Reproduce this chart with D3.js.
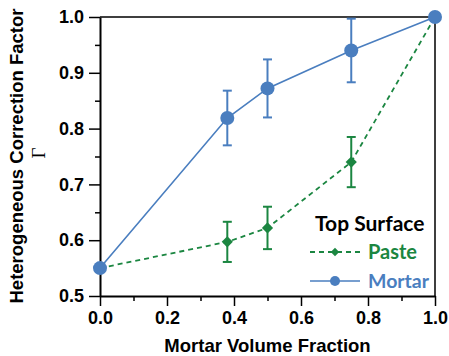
<!DOCTYPE html>
<html>
<head>
<meta charset="utf-8">
<script src="https://cdn.jsdelivr.net/npm/d3@7"></script>
<style>
body { margin: 0; background: #fff; }
text { font-family: "Liberation Sans", Arial, sans-serif; }
</style>
</head>
<body>
<div id="chart"></div>
<script>
// data
var fraction = [0, 0.38, 0.5, 0.75, 1.0];
var mortar = [0.55, 0.819, 0.872, 0.94, 1.0];
var mortarErr = [0, 0.049, 0.052, 0.057, 0];
var paste = [0.55, 0.597, 0.622, 0.74, 1.0];
var pasteErr = [0, 0.036, 0.038, 0.045, 0];
var xTicks = [0, 0.2, 0.4, 0.6, 0.8, 1.0];
var yTicks = [0.5, 0.6, 0.7, 0.8, 0.9, 1.0];

var blue = "#4a7ebf", green = "#1b8641";

var m = {left: 100, right: 14, top: 17, bottom: 60};
var W = 449, H = 356;
var w = W - m.left - m.right;
var h = H - m.top - m.bottom;

var svg = d3.select("#chart")
  .append("svg")
  .attr("width", W)
  .attr("height", H)
  .append("g")
  .attr("transform", "translate(" + m.left + "," + m.top + ")");

var x = d3.scaleLinear().domain([0, 1]).range([0, w]);
var y = d3.scaleLinear().domain([0.5, 1]).range([h, 0]);

// minor ticks
svg.append("g")
  .attr("transform", "translate(0," + h + ")")
  .call(d3.axisBottom(x).tickValues(d3.range(0.1, 1, 0.2)).tickSize(5).tickFormat(""))
  .call(function(g) { g.select(".domain").remove(); g.selectAll("line").attr("stroke-width", 1.5); });
svg.append("g")
  .call(d3.axisLeft(y).tickValues(d3.range(0.55, 1, 0.1)).tickSize(5).tickFormat(""))
  .call(function(g) { g.select(".domain").remove(); g.selectAll("line").attr("stroke-width", 1.5); });

// major axes
var xAxis = svg.append("g")
  .attr("transform", "translate(0," + h + ")")
  .call(d3.axisBottom(x).tickValues(xTicks).tickSize(10).tickSizeOuter(0).tickPadding(5).tickFormat(d3.format(".1f")));
var yAxis = svg.append("g")
  .call(d3.axisLeft(y).tickValues(yTicks).tickSize(11).tickSizeOuter(0).tickPadding(5).tickFormat(d3.format(".1f")));
[xAxis, yAxis].forEach(function(g) {
  g.select(".domain").attr("stroke-width", 2);
  g.selectAll("line").attr("stroke-width", 1.5);
  g.selectAll("text").attr("font-size", 18).attr("font-weight", "bold").attr("fill", "#000")
    .style("font-family", "'Liberation Sans', Arial, sans-serif");
});

// frame top/right
svg.append("path")
  .attr("d", "M0,0H" + w + "V" + h)
  .attr("fill", "none").attr("stroke", "#000").attr("stroke-width", 1.5);

function pts(vals) {
  return fraction.map(function(f, i) { return [f, vals[i]]; });
}
var line = d3.line().x(function(d) { return x(d[0]); }).y(function(d) { return y(d[1]); });

function errorBars(vals, errs, col) {
  var g = svg.append("g").attr("stroke", col).attr("stroke-width", 2);
  fraction.forEach(function(f, i) {
    if (!errs[i]) return;
    var cx = x(f), y0 = y(vals[i] - errs[i]), y1 = y(vals[i] + errs[i]);
    g.append("line").attr("x1", cx).attr("x2", cx).attr("y1", y0).attr("y2", y1);
    g.append("line").attr("x1", cx - 4.5).attr("x2", cx + 4.5).attr("y1", y0).attr("y2", y0);
    g.append("line").attr("x1", cx - 4.5).attr("x2", cx + 4.5).attr("y1", y1).attr("y2", y1);
  });
}

// paste
errorBars(paste, pasteErr, green);
svg.append("path").datum(pts(paste)).attr("d", line)
  .attr("fill", "none").attr("stroke", green).attr("stroke-width", 1.8).attr("stroke-dasharray", "5,4");
var diamond = d3.symbol().type(d3.symbolDiamond2).size(80);
svg.selectAll(".pd").data(pts(paste).slice(1, 4)).enter().append("path")
  .attr("d", diamond)
  .attr("transform", function(d) { return "translate(" + x(d[0]) + "," + y(d[1]) + ")"; })
  .attr("fill", green);

// mortar
errorBars(mortar, mortarErr, blue);
svg.append("path").datum(pts(mortar)).attr("d", line)
  .attr("fill", "none").attr("stroke", blue).attr("stroke-width", 1.6);
svg.selectAll(".md").data(pts(mortar)).enter().append("circle")
  .attr("cx", function(d) { return x(d[0]); })
  .attr("cy", function(d) { return y(d[1]); })
  .attr("r", 7)
  .attr("fill", blue);

// legend
var lg = svg.append("g").attr("transform", "translate(" + (310 - m.left) + "," + (0 - m.top) + ")");
var lfont = "Lato, 'Open Sans', sans-serif";
lg.append("text").attr("x", 5).attr("y", 231).text("Top Surface")
  .style("font-family", lfont).attr("font-weight", "bold").attr("font-size", 21).attr("fill", "#000");
lg.append("line").attr("x1", 0).attr("x2", 50).attr("y1", 252).attr("y2", 252)
  .attr("stroke", green).attr("stroke-width", 1.8).attr("stroke-dasharray", "5,4");
lg.append("path").attr("d", d3.symbol().type(d3.symbolDiamond2).size(45)).attr("transform", "translate(25,252)").attr("fill", green);
lg.append("text").attr("x", 58).attr("y", 259).text("Paste")
  .style("font-family", lfont).attr("font-weight", "bold").attr("font-size", 20).attr("fill", green);
lg.append("line").attr("x1", 0).attr("x2", 50).attr("y1", 281).attr("y2", 281)
  .attr("stroke", blue).attr("stroke-width", 1.6);
lg.append("circle").attr("cx", 25).attr("cy", 281).attr("r", 5).attr("fill", blue);
lg.append("text").attr("x", 58).attr("y", 288).text("Mortar")
  .style("font-family", lfont).attr("font-weight", "bold").attr("font-size", 19.5).attr("fill", blue);

// axis titles
svg.append("text")
  .attr("x", w / 2).attr("y", 335)
  .attr("text-anchor", "middle")
  .attr("font-size", 18.5).attr("font-weight", "bold")
  .text("Mortar Volume Fraction");
svg.append("text")
  .attr("transform", "translate(" + (23 - m.left) + "," + (156 - m.top) + ") rotate(-90)")
  .attr("text-anchor", "middle")
  .attr("font-size", 18.5).attr("font-weight", "bold")
  .text("Heterogeneous Correction Factor");
svg.append("text")
  .attr("transform", "translate(" + (45 - m.left) + "," + (153 - m.top) + ") rotate(-90)")
  .attr("text-anchor", "middle")
  .style("font-family", "'Liberation Serif', 'DejaVu Serif', serif")
  .attr("font-size", 19)
  .text("Γ");
</script>
</body>
</html>
